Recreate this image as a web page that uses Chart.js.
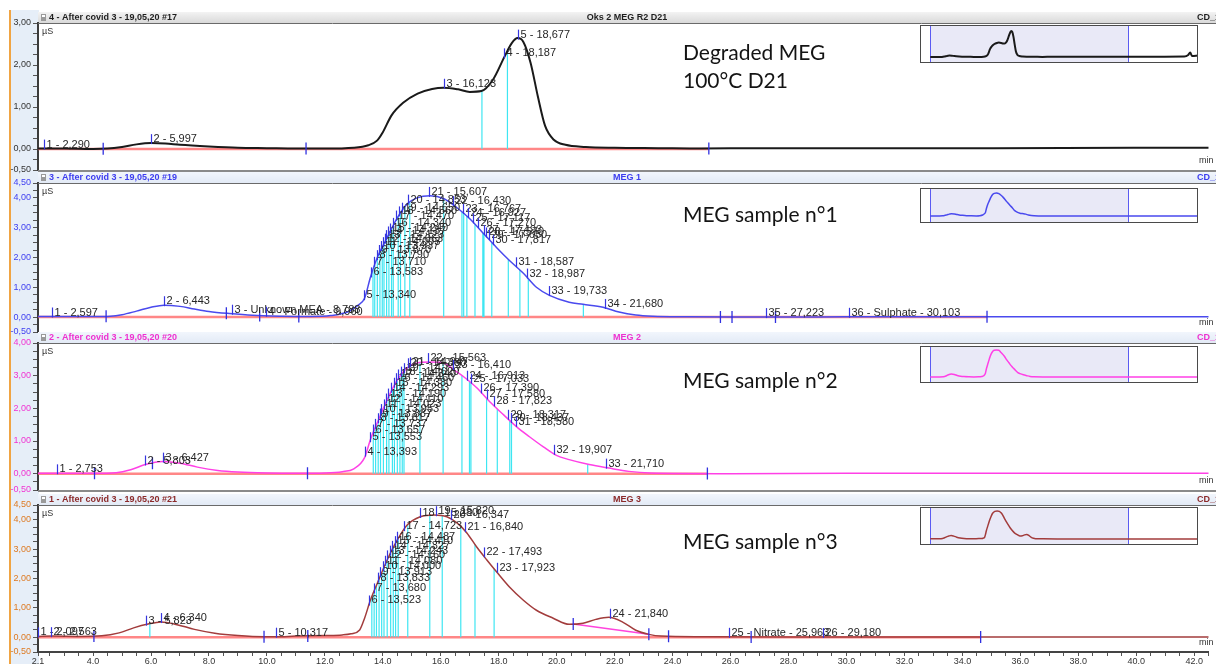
<!DOCTYPE html>
<html>
<head>
<meta charset="utf-8">
<script src="https://cdn.jsdelivr.net/npm/chart.js@4.4.1/dist/chart.umd.min.js"></script>
<style>
  html, body { margin:0; padding:0; background:#fff; width:1216px; height:664px; overflow:hidden; position:relative;
    font-family:"Liberation Sans", Arial, sans-serif; }
  #leftband { position:absolute; left:9px; top:10px; width:28px; height:654px; background:#e6eef8; border-left:2px solid #f0a443; }
  canvas { position:absolute; left:0; }
  canvas.inset { z-index:5; }
  .note { position:absolute; left:683px; font-family:Lato, "Open Sans", sans-serif; font-size:21px; color:#141414;
    line-height:28px; white-space:nowrap; z-index:6; }
</style>
</head>
<body>
<div id="leftband"></div>
<canvas id="p1"></canvas>
<canvas id="p2"></canvas>
<canvas id="p3"></canvas>
<canvas id="p4"></canvas>
<canvas id="i1" class="inset"></canvas>
<canvas id="i2" class="inset"></canvas>
<canvas id="i3" class="inset"></canvas>
<canvas id="i4" class="inset"></canvas>
<div class="note" style="top:38px">Degraded MEG<br>100°C D21</div>
<div class="note" style="top:200px">MEG sample n°1</div>
<div class="note" style="top:366px">MEG sample n°2</div>
<div class="note" style="top:527px">MEG sample n°3</div>

<script>
// ---------- retention time axis (min) ----------
const timeMin = 2.1, timeMax = 42.5;
const timeTicks = [2.1, 4, 6, 8, 10, 12, 14, 16, 18, 20, 22, 24, 26, 28, 30, 32, 34, 36, 38, 40, 42];

// ---------- 4 - After covid 3 - 19,05,20 #17  (Oks 2 MEG R2 D21) ----------
const p1Time   = [2.1, 3.0, 4.0, 4.5, 5.0, 5.5, 6.0, 6.5, 7.0, 8.0, 9.0, 10.0, 11.0, 12.0, 13.0, 13.5, 13.8, 14.0, 14.3, 14.7, 15.2, 15.7, 16.1, 16.6, 17.0, 17.4, 17.8, 18.2, 18.45, 18.65, 18.85, 19.1, 19.35, 19.6, 19.9, 20.3, 21.0, 22.0, 23.5, 25.0, 27.0, 30.0, 35.0, 40.0, 42.5, 46.0, 50.0, 54.0, 54.8, 55.2, 55.6, 56.8];
const p1Signal = [0.01, 0.01, 0.0, 0.01, 0.05, 0.11, 0.14, 0.13, 0.10, 0.06, 0.03, 0.02, 0.01, 0.01, 0.03, 0.09, 0.2, 0.4, 0.8, 1.1, 1.32, 1.43, 1.46, 1.42, 1.36, 1.38, 1.65, 2.2, 2.52, 2.64, 2.55, 2.05, 1.25, 0.55, 0.22, 0.1, 0.05, 0.03, 0.02, 0.01, 0.02, 0.02, 0.02, 0.03, 0.03, 0.03, 0.03, 0.04, 0.2, 0.45, 0.1, 0.15];
const p1PeakNames = ["1 - 2,290", "2 - 5,997", "3 - 16,123", "4 - 18,187", "5 - 18,677"];
const p1PeakTimes = [2.290, 5.997, 16.123, 18.187, 18.677];
const p1DropTimes = [17.42, 18.3];
const p1Delimiters = [4.35, 11.35, 25.25];
const p1BaselineEnd = 25.25;
const p1YLabels = [-0.5, 0, 1, 2, 3];

// ---------- 3 - After covid 3 - 19,05,20 #19  (MEG 1) ----------
const p2Time   = [2.1, 3.0, 4.0, 4.6, 5.0, 5.5, 6.0, 6.45, 7.0, 7.5, 8.0, 8.7, 9.5, 10.5, 11.5, 12.2, 12.8, 13.15, 13.37, 13.57, 13.81, 14.15, 14.5, 14.84, 15.18, 15.63, 16.11, 16.56, 17.0, 17.48, 17.93, 18.37, 18.85, 19.3, 19.75, 20.43, 20.91, 21.6, 22.15, 22.73, 23.32, 24.5, 26.0, 28.0, 30.0, 35.0, 40.0, 42.5, 46.0, 50.0, 56.8];
const p2Signal = [0.02, 0.02, 0.02, 0.03, 0.08, 0.2, 0.33, 0.4, 0.36, 0.27, 0.19, 0.12, 0.06, 0.03, 0.02, 0.05, 0.18, 0.4, 0.63, 1.33, 2.0, 2.67, 3.33, 3.8, 4.0, 4.07, 3.97, 3.67, 3.3, 2.8, 2.33, 1.9, 1.47, 1.0, 0.73, 0.5, 0.43, 0.33, 0.17, 0.07, 0.03, 0.01, 0.0, 0.0, 0.01, 0.01, 0.01, 0.01, 0.01, 0.01, 0.01];
const p2PeakNames = ["1 - 2,597", "2 - 6,443", "3 - Unknown MEA - 8,788", "4 - Formate - 9,960", "5 - 13,340", "6 - 13,583",
  "7 - 13,710", "8 - 13,790", "9 - 13,870", "10 - 13,937", "11 - 14,003", "12 - 14,063", "13 - 14,123", "14 - 14,187",
  "15 - 14,240", "16 - 14,340", "17 - 14,470", "18 - 14,560", "19 - 14,650", "20 - 14,853", "21 - 15,607", "22 - 16,430",
  "23 - 16,767", "24 - 16,927", "25 - 17,117", "26 - 17,270", "27 - 17,493", "28 - 17,570", "29 - 17,650", "30 - 17,817",
  "31 - 18,587", "32 - 18,987", "33 - 19,733", "34 - 21,680", "35 - 27,223", "36 - Sulphate - 30,103"];
const p2PeakTimes = [2.597, 6.443, 8.788, 9.960, 13.340, 13.583, 13.710, 13.790, 13.870, 13.937, 14.003, 14.063, 14.123, 14.187,
  14.240, 14.340, 14.470, 14.560, 14.650, 14.853, 15.607, 16.430, 16.767, 16.927, 17.117, 17.270, 17.493, 17.570, 17.650, 17.817,
  18.587, 18.987, 19.733, 21.680, 27.223, 30.103];
const p2DropTimes = [13.66, 13.72, 13.81, 13.90, 13.98, 14.04, 14.13, 14.21, 14.30, 14.36, 14.53, 14.61, 14.76, 14.93, 16.10,
  16.73, 16.79, 16.90, 17.18, 17.45, 17.49, 17.76, 18.33, 18.73, 19.02, 20.92];
const p2Delimiters = [4.45, 8.6, 9.75, 11.1, 25.65, 26.05, 27.55, 34.85];
const p2BaselineEnd = 34.85;
const p2YLabels = [-0.5, 0, 1, 2, 3, 4, 4.5];

// ---------- 2 - After covid 3 - 19,05,20 #20  (MEG 2) ----------
const p3Time   = [2.1, 3.0, 4.0, 4.8, 5.3, 5.8, 6.4, 7.0, 7.6, 8.3, 9.0, 10.0, 11.0, 12.0, 12.6, 13.0, 13.37, 13.57, 13.81, 14.15, 14.5, 14.84, 15.18, 15.63, 16.11, 16.45, 16.8, 17.24, 17.69, 18.17, 18.61, 19.06, 19.54, 19.99, 20.43, 21.12, 21.8, 22.49, 23.2, 26.0, 30.0, 35.0, 42.5, 50.0, 56.8];
const p3Signal = [0.01, 0.01, 0.01, 0.03, 0.12, 0.28, 0.37, 0.32, 0.2, 0.1, 0.05, 0.02, 0.01, 0.02, 0.06, 0.15, 0.49, 1.04, 1.56, 2.26, 2.87, 3.24, 3.39, 3.42, 3.39, 3.18, 2.96, 2.63, 2.2, 1.8, 1.44, 1.13, 0.82, 0.56, 0.43, 0.28, 0.17, 0.07, 0.02, 0.0, 0.01, 0.01, 0.01, 0.01, 0.01];
const p3PeakNames = ["1 - 2,753", "2 - 5,803", "3 - 6,427", "4 - 13,393", "5 - 13,553", "6 - 13,657", "7 - 13,737",
  "8 - 13,817", "9 - 13,887", "10 - 13,953", "11 - 14,023", "12 - 14,110", "13 - 14,190", "14 - 14,293", "15 - 14,380",
  "16 - 14,460", "17 - 14,540", "18 - 14,620", "19 - 14,717", "20 - 14,880", "21 - 14,947", "22 - 15,563", "23 - 16,410",
  "24 - 16,913", "25 - 17,033", "26 - 17,390", "27 - 17,580", "28 - 17,823", "29 - 18,317", "30 - 18,437", "31 - 18,580",
  "32 - 19,907", "33 - 21,710"];
const p3PeakTimes = [2.753, 5.803, 6.427, 13.393, 13.553, 13.657, 13.737, 13.817, 13.887, 13.953, 14.023, 14.110, 14.190,
  14.293, 14.380, 14.460, 14.540, 14.620, 14.717, 14.880, 14.947, 15.563, 16.410, 16.913, 17.033, 17.390, 17.580, 17.823,
  18.317, 18.437, 18.580, 19.907, 21.710];
const p3DropTimes = [13.67, 13.75, 13.84, 13.92, 14.02, 14.13, 14.21, 14.33, 14.40, 14.50, 14.59, 14.67, 14.73, 15.28, 16.08,
  16.73, 16.99, 17.04, 17.58, 17.95, 18.38, 18.44, 21.07];
const p3Delimiters = [4.05, 6.05, 11.4, 25.2];
const p3BaselineEnd = 25.2;
const p3YLabels = [-0.5, 0, 1, 2, 3, 4];

// ---------- 1 - After covid 3 - 19,05,20 #21  (MEG 3) ----------
const p4Time   = [2.1, 2.6, 3.5, 4.3, 4.9, 5.4, 5.9, 6.35, 6.9, 7.5, 8.2, 9.0, 9.9, 10.3, 11.0, 12.0, 12.6, 12.9, 13.2, 13.37, 13.57, 13.81, 14.15, 14.5, 14.84, 15.29, 15.77, 16.21, 16.56, 16.9, 17.24, 17.59, 17.93, 18.37, 18.85, 19.3, 19.88, 20.43, 20.91, 21.35, 21.8, 22.29, 22.73, 23.18, 23.6, 25.0, 28.0, 33.0, 42.5, 50.0, 56.8];
const p4Signal = [0.03, 0.04, 0.03, 0.05, 0.15, 0.32, 0.45, 0.52, 0.43, 0.27, 0.14, 0.06, 0.02, 0.02, 0.04, 0.06, 0.08, 0.12, 0.25, 0.65, 1.26, 1.84, 2.63, 3.31, 3.82, 4.1, 4.16, 4.1, 3.89, 3.55, 3.07, 2.63, 2.22, 1.71, 1.26, 0.92, 0.65, 0.44, 0.48, 0.61, 0.68, 0.51, 0.24, 0.1, 0.04, 0.02, 0.01, 0.01, 0.01, 0.01, 0.01];
const p4PeakNames = ["1 - 2,097", "2 - 2,563", "3 - 5,823", "4 - 6,340", "5 - 10,317", "6 - 13,523", "7 - 13,680",
  "8 - 13,833", "9 - 13,913", "10 - 14,000", "11 - 14,080", "12 - 14,160", "13 - 14,243", "14 - 14,327", "15 - 14,410",
  "16 - 14,487", "17 - 14,723", "18 - 15,280", "19 - 15,820", "20 - 16,347", "21 - 16,840", "22 - 17,493", "23 - 17,923",
  "24 - 21,840", "25 - Nitrate - 25,963", "26 - 29,180"];
const p4PeakTimes = [2.097, 2.563, 5.823, 6.340, 10.317, 13.523, 13.680, 13.833, 13.913, 14.000, 14.080, 14.160, 14.243,
  14.327, 14.410, 14.487, 14.723, 15.280, 15.820, 16.347, 16.840, 17.493, 17.923, 21.840, 25.963, 29.180];
const p4DropTimes = [5.96, 13.62, 13.70, 13.78, 13.87, 13.96, 14.04, 14.15, 14.27, 14.36, 14.44, 14.53, 14.86, 15.62, 16.05,
  16.69, 17.18, 17.84];
const p4Delimiters = [4.03, 9.9, 11.41, 20.57, 23.18, 23.86, 26.71, 34.63];
const p4BaselineEnd = 34.63;
const p4SplitBaseline = [20.57, 23.18];
const p4YLabels = [-0.5, 0, 1, 2, 3, 4, 4.5];

// ---------- helpers ----------
const SANS = '"Liberation Sans", Arial, sans-serif';

// signal height at a given time, used to place labels and drop lines on the trace
function signalAt(ts, vs, t) {
  if (t <= ts[0]) return vs[0];
  for (let i = 1; i < ts.length; i++) {
    if (t <= ts[i]) {
      const f = (t - ts[i - 1]) / (ts[i] - ts[i - 1]);
      return vs[i - 1] + f * (vs[i] - vs[i - 1]);
    }
  }
  return vs[vs.length - 1];
}
const pts = (ts, vs) => ts.map((t, i) => ({ x: t, y: vs[i] }));

// header strip, µS / min captions and frame lines of each panel
const panelFrame = {
  id: 'panelFrame',
  beforeDraw(chart, args, o) {
    if (!o.left) return;
    const { ctx, chartArea: { left, top }, width } = chart;
    const h = 10;
    ctx.save();
    const g = ctx.createLinearGradient(0, top - h - 1, 0, top);
    g.addColorStop(0, o.bg[0]); g.addColorStop(1, o.bg[1]);
    ctx.fillStyle = g;
    ctx.fillRect(left, top - h - 1, width - left, h + 1);
    // small chromatogram icon
    ctx.fillStyle = '#9a9a9a';
    ctx.fillRect(left + 3, top - h + 1, 5, 7);
    ctx.fillStyle = '#ffffff';
    ctx.fillRect(left + 4, top - h + 2, 3, 2);
    ctx.font = 'bold 9px ' + SANS;
    ctx.fillStyle = o.color;
    ctx.textBaseline = 'middle';
    ctx.textAlign = 'left';
    ctx.fillText(o.left, left + 11, top - h / 2 - 0.5);
    ctx.textAlign = 'center';
    ctx.fillText(o.center, 627, top - h / 2 - 0.5);
    ctx.textAlign = 'left';
    ctx.fillText('CD_1', 1197, top - h / 2 - 0.5);
    ctx.restore();
  },
  afterDraw(chart, args, o) {
    if (!o.left) return;
    const { ctx, chartArea: { left, top, bottom }, width } = chart;
    ctx.save();
    ctx.strokeStyle = '#6a6a6a';
    ctx.lineWidth = 1;
    ctx.beginPath(); ctx.moveTo(left, top + 0.5); ctx.lineTo(width, top + 0.5); ctx.stroke();
    if (o.bottomRule) {
      ctx.strokeStyle = '#8a8a8a';
      ctx.lineWidth = 2;
      ctx.beginPath(); ctx.moveTo(left, bottom + 1); ctx.lineTo(width, bottom + 1); ctx.stroke();
    }
    ctx.font = '9px ' + SANS;
    ctx.fillStyle = '#333';
    ctx.textBaseline = 'middle';
    ctx.textAlign = 'left';
    ctx.fillText('µS', left + 4, top + 9);
    ctx.fillText('min', 1199, bottom - 9);
    ctx.restore();
  }
};

// peak apex ticks and "n - time" labels
const peakLabels = {
  id: 'peakLabels',
  afterDatasetsDraw(chart, args, o) {
    if (!o.names) return;
    const { ctx, scales: { x, y } } = chart;
    ctx.save();
    ctx.font = '11px ' + SANS;
    ctx.textBaseline = 'alphabetic';
    ctx.textAlign = 'left';
    o.names.forEach((name, i) => {
      const t = o.times[i];
      const v = signalAt(o.ts, o.vs, t);
      const px = Math.round(x.getPixelForValue(t)) + 0.5;
      const py = y.getPixelForValue(v);
      ctx.strokeStyle = '#3535e0';
      ctx.lineWidth = 1.2;
      ctx.beginPath(); ctx.moveTo(px, py + 1); ctx.lineTo(px, py - 9); ctx.stroke();
      ctx.fillStyle = '#262626';
      ctx.fillText(name, px + 2, py - 1);
    });
    ctx.restore();
  }
};

// overview box: highlighted time window with its limits
const overview = {
  id: 'overview',
  beforeDatasetsDraw(chart, args, o) {
    if (!o.on) return;
    const { ctx, scales: { x }, width, height } = chart;
    const a = x.getPixelForValue(timeMin), b = x.getPixelForValue(timeMax);
    ctx.save();
    ctx.fillStyle = '#fff';
    ctx.fillRect(0, 0, width, height);
    ctx.fillStyle = '#e9e9f7';
    ctx.fillRect(a, 1, b - a, height - 2);
    ctx.strokeStyle = '#5b5bf2';
    ctx.lineWidth = 1;
    [a, b].forEach(p => { ctx.beginPath(); ctx.moveTo(Math.round(p) + 0.5, 1); ctx.lineTo(Math.round(p) + 0.5, height - 1); ctx.stroke(); });
    ctx.restore();
  },
  afterDraw(chart, args, o) {
    if (!o.on) return;
    const { ctx, width, height } = chart;
    ctx.save();
    ctx.strokeStyle = '#4a4a4a';
    ctx.lineWidth = 1;
    ctx.strokeRect(0.5, 0.5, width - 1, height - 1);
    ctx.restore();
  }
};

Chart.register(panelFrame, peakLabels, overview);

function yAxis(min, max, labels, color) {
  return {
    type: 'linear', position: 'left', min, max,
    afterFit(s) { s.width = 38; },
    afterBuildTicks(s) {
      const arr = [];
      for (let k = 0; min + k * 0.25 <= max + 1e-9; k++) arr.push({ value: Math.round((min + k * 0.25) * 100) / 100 });
      s.ticks = arr;
    },
    ticks: {
      autoSkip: false, padding: 2, color, font: { size: 9, family: SANS },
      callback: v => labels.includes(v) ? v.toFixed(2).replace('.', ',') : ''
    },
    grid: { drawOnChartArea: false, drawTicks: true, tickLength: 5, color: '#555', tickWidth: 1 },
    border: { display: true, color: '#3c3c3c', width: 2 }
  };
}

function xAxis(show) {
  if (!show) return { type: 'linear', min: timeMin, max: timeMax, display: false };
  return {
    type: 'linear', position: 'bottom', min: timeMin, max: timeMax,
    afterFit(s) { s.height = 12; },
    afterBuildTicks(s) {
      const arr = [{ value: timeMin }];
      for (let v = 2.5; v <= timeMax + 1e-9; v += 0.5) arr.push({ value: v });
      s.ticks = arr;
    },
    ticks: {
      autoSkip: false, maxRotation: 0, padding: 0, color: '#333', font: { size: 9, family: SANS },
      callback: v => timeTicks.includes(v) ? v.toFixed(1) : ''
    },
    grid: { drawOnChartArea: false, drawTicks: true, tickLength: 4, color: '#555' },
    border: { display: true, color: '#444', width: 2 }
  };
}

function makePanel(p) {
  const cv = document.getElementById(p.id);
  const padTop = 16, padBottom = p.showTime ? 0 : 8;
  const axisH = p.showTime ? 12 : 0;
  const h = padTop + (p.bottom - p.top) + padBottom + axisH;
  cv.width = 1216; cv.height = h;
  cv.style.top = (p.top - padTop) + 'px';

  const drops = [];
  p.drops.forEach(t => {
    drops.push({ x: t, y: 0 }, { x: t, y: signalAt(p.ts, p.vs, t) }, { x: t, y: null });
  });
  const marks = p.delims.map(t => ({ x: t, y: signalAt(p.ts, p.vs, t) }));

  const datasets = [
    { data: marks, showLine: false, pointStyle: 'line', pointRotation: 90, pointRadius: 6,
      pointBorderColor: '#3030e0', pointBorderWidth: 1.3, borderColor: '#3030e0' },
    { data: pts(p.ts, p.vs), borderColor: p.color, borderWidth: p.lineWidth, pointRadius: 0,
      cubicInterpolationMode: 'monotone' },
    { data: drops, borderColor: '#3ee6f2', borderWidth: 1.2, pointRadius: 0, spanGaps: false }
  ];
  if (p.split) {
    datasets.push({ data: p.split.map(t => ({ x: t, y: signalAt(p.ts, p.vs, t) })),
      borderColor: '#ff44dd', borderWidth: 1.5, pointRadius: 0 });
  }
  datasets.push({ data: [{ x: timeMin, y: 0 }, { x: p.baseEnd, y: 0 }],
    borderColor: 'rgba(255,95,95,0.75)', borderWidth: 2.5, pointRadius: 0 });

  new Chart(cv, {
    type: 'line',
    data: { datasets },
    options: {
      responsive: false, animation: false, events: [],
      layout: { padding: { top: padTop, bottom: padBottom, left: 0, right: 0 } },
      scales: { x: xAxis(p.showTime), y: yAxis(p.yMin, p.yMax, p.yLabels, p.tickColor) },
      plugins: {
        legend: { display: false }, tooltip: { enabled: false },
        panelFrame: { left: p.title, center: p.sample, color: p.headColor, bg: p.headBg, bottomRule: !p.showTime },
        peakLabels: { names: p.names, times: p.times, ts: p.ts, vs: p.vs },
        overview: { on: false }
      }
    }
  });

  // overview of the whole run
  const ic = document.getElementById(p.inset.id);
  ic.width = 278; ic.height = p.inset.h;
  ic.style.left = '920px'; ic.style.top = p.inset.top + 'px';
  new Chart(ic, {
    type: 'line',
    data: { datasets: [{ data: pts(p.ts, p.vs), borderColor: p.color, borderWidth: p.lineWidth,
      pointRadius: 0, cubicInterpolationMode: 'monotone' }] },
    options: {
      responsive: false, animation: false, events: [],
      layout: { padding: 0 },
      scales: { x: { type: 'linear', display: false, min: 0, max: 56.8 },
                y: { display: false, min: p.inset.yMin, max: p.inset.yMax } },
      plugins: { legend: { display: false }, tooltip: { enabled: false },
        panelFrame: {}, peakLabels: {}, overview: { on: true } }
    }
  });
}

makePanel({ id: 'p1', top: 23, bottom: 170, yMin: -0.5, yMax: 3, yLabels: p1YLabels, tickColor: '#333',
  title: '4 - After covid 3 - 19,05,20 #17', sample: 'Oks 2 MEG R2 D21', headColor: '#1e1e1e', headBg: ['#f3f3f3', '#d9d9d9'],
  ts: p1Time, vs: p1Signal, color: '#1a1a1a', lineWidth: 2,
  names: p1PeakNames, times: p1PeakTimes, drops: p1DropTimes, delims: p1Delimiters, baseEnd: p1BaselineEnd,
  inset: { id: 'i1', top: 25, h: 38, yMin: -0.61, yMax: 3.25 } });

makePanel({ id: 'p2', top: 183, bottom: 332, yMin: -0.5, yMax: 4.5, yLabels: p2YLabels, tickColor: '#4040f0',
  title: '3 - After covid 3 - 19,05,20 #19', sample: 'MEG 1', headColor: '#3c3cf0', headBg: ['#f2f6fc', '#e2eaf6'],
  ts: p2Time, vs: p2Signal, color: '#4a4aee', lineWidth: 1.5,
  names: p2PeakNames, times: p2PeakTimes, drops: p2DropTimes, delims: p2Delimiters, baseEnd: p2BaselineEnd,
  inset: { id: 'i2', top: 188, h: 35, yMin: -1.24, yMax: 4.96 } });

makePanel({ id: 'p3', top: 343, bottom: 490, yMin: -0.5, yMax: 4, yLabels: p3YLabels, tickColor: '#f032d2',
  title: '2 - After covid 3 - 19,05,20 #20', sample: 'MEG 2', headColor: '#ee30d0', headBg: ['#f2f6fc', '#e2eaf6'],
  ts: p3Time, vs: p3Signal, color: '#ff40e6', lineWidth: 1.5,
  names: p3PeakNames, times: p3PeakTimes, drops: p3DropTimes, delims: p3Delimiters, baseEnd: p3BaselineEnd,
  inset: { id: 'i3', top: 346, h: 37, yMin: -0.76, yMax: 3.93 } });

makePanel({ id: 'p4', top: 505, bottom: 652, yMin: -0.5, yMax: 4.5, yLabels: p4YLabels, tickColor: '#dd7a22',
  title: '1 - After covid 3 - 19,05,20 #21', sample: 'MEG 3', headColor: '#8c2a2a', headBg: ['#f2f6fc', '#e2eaf6'],
  ts: p4Time, vs: p4Signal, color: '#a23c3c', lineWidth: 1.5, showTime: true, split: p4SplitBaseline,
  names: p4PeakNames, times: p4PeakTimes, drops: p4DropTimes, delims: p4Delimiters, baseEnd: p4BaselineEnd,
  inset: { id: 'i4', top: 507, h: 38, yMin: -0.89, yMax: 4.75 } });
</script>
</body>
</html>
